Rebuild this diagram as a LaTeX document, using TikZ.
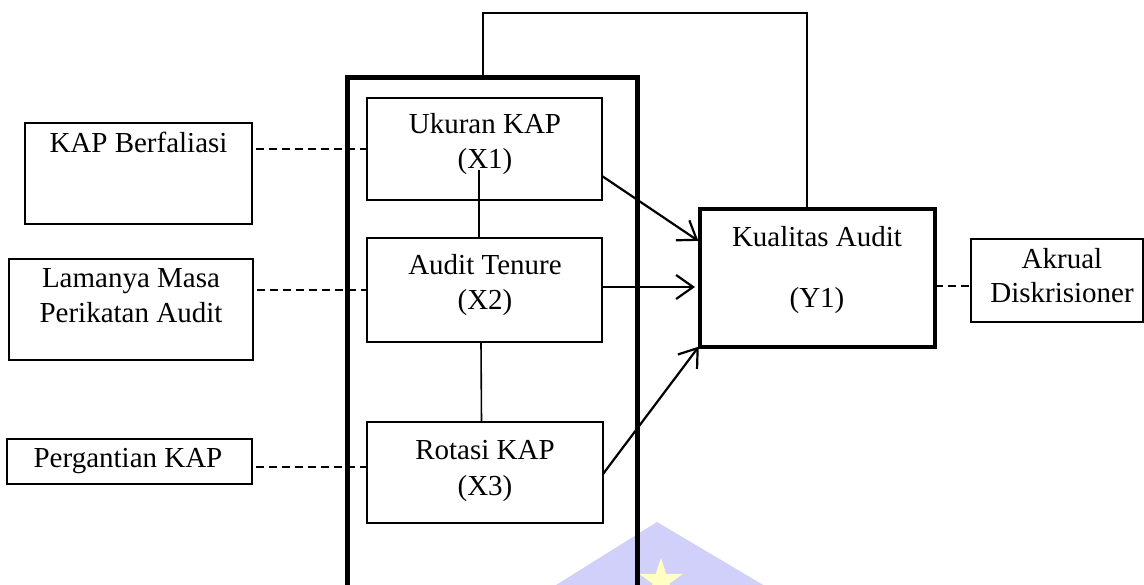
\documentclass[tikz,border=0pt]{standalone}
\usepackage{fontspec}
\setmainfont{Liberation Serif}
\usetikzlibrary{arrows.meta,shapes.geometric}

\definecolor{wmblue}{RGB}{208,208,250}
\definecolor{wmyellow}{RGB}{255,255,195}

\tikzset{
  box/.style={draw, rectangle, inner sep=0pt, outer sep=0pt},
  sidebox/.style={box, line width=2.6pt},
  varbox/.style={box, line width=1.7pt},
  depbox/.style={box, line width=3.4pt},
  frame/.style={box, line width=5pt},
  txt/.style={anchor=base, inner sep=0pt, font=\fontsize{29}{35}\selectfont},
  link/.style={line width=1.6pt},
  dashlink/.style={line width=1.8pt, dash pattern=on 8pt off 5pt},
  effect/.style={line width=2.2pt, -{Straight Barb[length=17pt,width=24pt]}},
}

\begin{document}
\begin{tikzpicture}[x=1pt,y=-1pt]
\useasboundingbox (0,0) rectangle (1144,585);

% faint emblem in the background
\fill[wmblue] (657,522) -- (797,605) -- (524,605) -- cycle;
\node[star, star points=5, star point ratio=2.618, fill=wmyellow, draw=none,
      inner sep=0pt, minimum size=46pt] (wmstar) at (661,581) {};

% outer frame around the independent variables
\node[frame, minimum width=290pt, minimum height=562pt] (frame) at (492,359) {};

% indicator boxes
\node[sidebox, minimum width=227pt, minimum height=101pt] (kap)  at (138.5,173.5) {};
\node[sidebox, minimum width=244pt, minimum height=101pt] (lam)  at (131,309.5) {};
\node[sidebox, minimum width=245pt, minimum height=45pt]  (perg) at (129.5,461.5) {};

% independent variables
\node[varbox, minimum width=235pt, minimum height=102pt] (X1) at (484.5,149) {};
\node[varbox, minimum width=235pt, minimum height=104pt] (X2) at (484.5,290) {};
\node[varbox, minimum width=236pt, minimum height=101pt] (X3) at (485,472.5) {};

% dependent variable and its indicator
\node[depbox, minimum width=235pt, minimum height=138pt] (Y1) at (817.5,278) {};
\node[sidebox, minimum width=172pt, minimum height=83pt] (akr) at (1057,280.5) {};

% labels
\node[txt] (tkap)  at (138.5,153) {KAP Berfaliasi};
\node[txt] (tlam1) at (131,288) {Lamanya Masa};
\node[txt] (tlam2) at (131,323) {Perikatan Audit};
\node[txt] (tperg) at (128,467) {Pergantian KAP};
\node[txt] (tx1a)  at (485,134) {Ukuran KAP};
\node[txt] (tx1b)  at (485,169) {(X1)};
\node[txt] (tx2a)  at (485,275) {Audit Tenure};
\node[txt] (tx2b)  at (485,310) {(X2)};
\node[txt] (tx3a)  at (485,460) {Rotasi KAP};
\node[txt] (tx3b)  at (485,495) {(X3)};
\node[txt] (ty1a)  at (817,247) {Kualitas Audit};
\node[txt] (ty1b)  at (817,308) {(Y1)};
\node[txt] (takr1) at (1062,269) {Akrual};
\node[txt] (takr2) at (1062,303) {Diskrisioner};

% feedback line from the frame to the dependent variable
\coordinate (fbtop) at (807,13);
\draw[link, line width=1.8pt] ([xshift=-9pt]frame.north) |- (fbtop) -- ([xshift=-10.5pt]Y1.north);

% links between the independent variables
\draw[link] ([xshift=-5.5pt,yshift=-21pt]X1.center) -- ([xshift=-5.5pt]X2.north);
\draw[link] ([xshift=-3.5pt]X2.south) -- ([xshift=-3.5pt]X3.north);

% attachment points of the dashed indicator links
\coordinate (x3in) at ([yshift=5.5pt]X3.west);
\coordinate (y1out) at ([yshift=-8pt]Y1.east);

% indicators (dashed)
\draw[dashlink, shorten <=4pt] (kap.east |- X1.west) -- (X1.west);
\draw[dashlink, shorten <=4pt] (lam.east |- X2.west) -- (X2.west);
\draw[dashlink, shorten <=4pt] (perg.east |- x3in) -- (x3in);
\draw[dashlink] (y1out) -- (akr.west |- y1out);

% effects on audit quality
\draw[effect, shorten >=2pt] ([yshift=-27pt]X1.east) -- ([yshift=36pt]Y1.west);
\draw[effect, shorten >=5pt] ([yshift=3pt]X2.east) -- ([yshift=-9pt]Y1.west);
\draw[effect, shorten >=2pt] ([yshift=-1.5pt]X3.east) -- ([yshift=-67pt]Y1.west);
\end{tikzpicture}
\end{document}
